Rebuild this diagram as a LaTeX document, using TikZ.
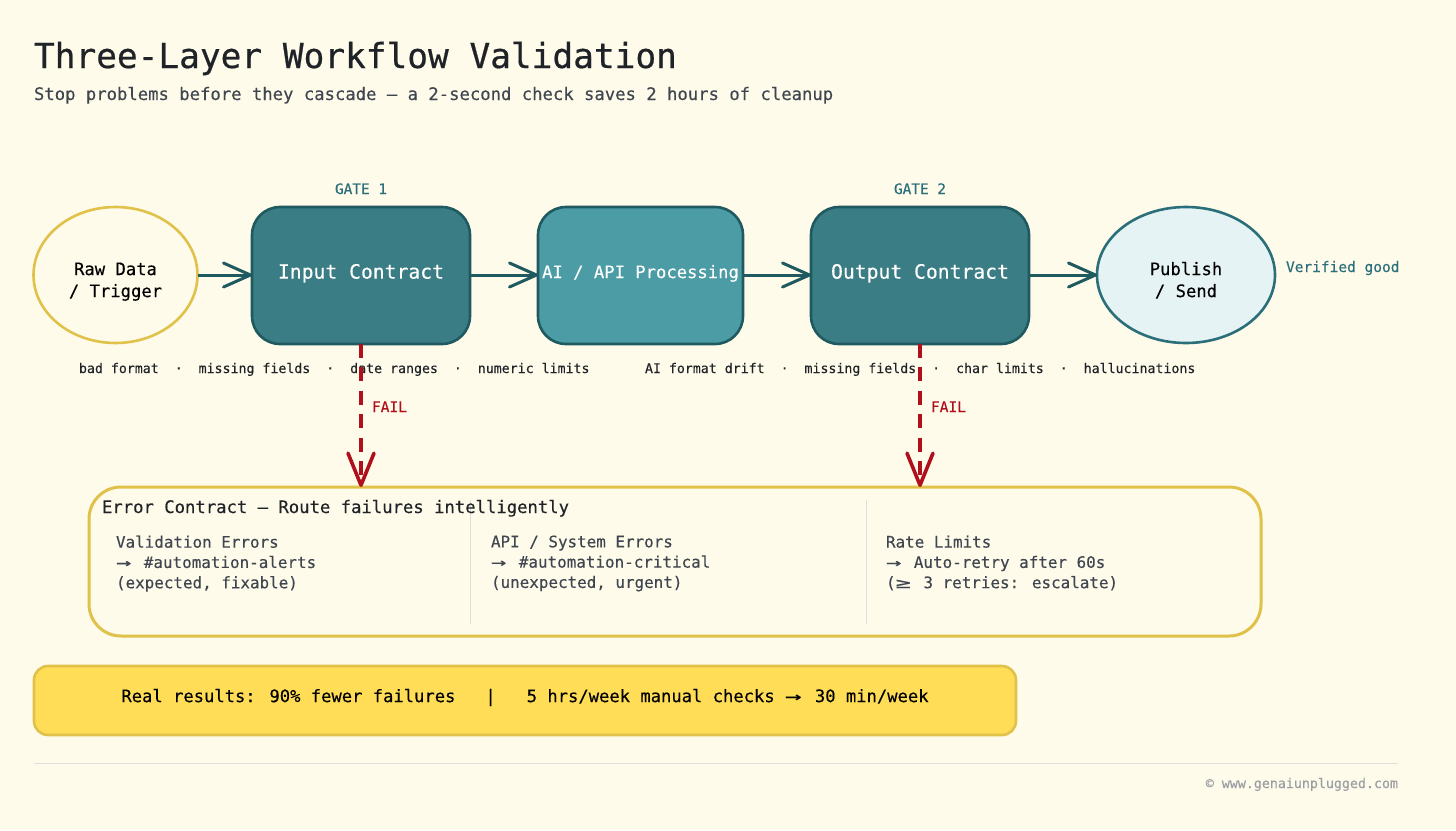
\documentclass[tikz,border=0pt]{standalone}
\usepackage{fontspec}
\usepackage{graphicx}
\setmainfont[FakeBold=0.25]{DejaVu Sans Mono}
\newfontfamily\headfont[FakeBold=0.6]{DejaVu Sans Mono}
\usetikzlibrary{arrows.meta,shapes.geometric,calc}
\definecolor{bgc}{HTML}{FFFBEA}
\definecolor{ink}{HTML}{1F2328}
\definecolor{subink}{HTML}{3F4650}
\definecolor{teal}{HTML}{3A7D84}
\definecolor{tealdk}{HTML}{1F5A60}
\definecolor{tealmd}{HTML}{4B9CA4}
\definecolor{tealtx}{HTML}{2A6F7A}
\definecolor{pale}{HTML}{E6F3F4}
\definecolor{gold}{HTML}{E0C24A}
\definecolor{sun}{HTML}{FFDD57}
\definecolor{redc}{HTML}{B0101C}
\definecolor{rulec}{HTML}{DEDEDA}
\definecolor{greyt}{HTML}{9A9EA3}
\newcommand{\fs}[2]{\fontsize{#1}{#2}\selectfont}
\newcommand{\lbl}[2]{\raisebox{#1}[0pt][0pt]{\begin{tabular}{@{}c@{}}#2\end{tabular}}}
\newcommand{\wide}[1]{\scalebox{1.6}[1]{#1}\hspace{3pt}}
\tikzset{
  shapebase/.style={inner sep=0pt,outer sep=0pt,line width=2.6pt,align=center},
  endellipse/.style={shapebase,ellipse,minimum height=136pt},
  gatebox/.style={shapebase,rectangle,rounded corners=28pt,minimum height=137pt,minimum width=218pt,draw=tealdk,fill=teal,text=white},
  flow/.style={draw=tealdk,line width=3pt,-{Straight Barb[length=27pt,width=24pt,round]}},
  failflow/.style={draw=redc,line width=3.6pt,dash pattern=on 14pt off 9.4pt,-{Straight Barb[length=32pt,width=26pt,round]}},
  txt/.style={inner sep=0pt,outer sep=0pt,anchor=base west,text=ink},
  coltext/.style={txt,text=subink,align=left,anchor=north west,font=\fs{15.9}{20.3}},
  divider/.style={draw=rulec,line width=1pt}
}
\begin{document}
\begin{tikzpicture}[x=1pt,y=-1pt]
\useasboundingbox[fill=bgc] (0,0) rectangle (1456,830);
\node[txt] (title) at (34,68) {\headfont\fs{34.45}{40}Three-Layer Workflow Validation};
\node[txt,text=subink] (subtitle) at (34,100) {\fs{17.24}{20}Stop problems before they cascade — a 2-second check saves 2 hours of cleanup};

\node[endellipse,draw=gold,minimum width=164pt] (raw) at (115.5,275) {\fs{17.2}{22}\lbl{-11pt}{Raw Data\\/ Trigger}};
\node[gatebox] (input) at (361,275.5) {\fs{19.7}{24}\lbl{-3.5pt}{Input Contract}};
\node[gatebox,fill=tealmd,minimum width=205pt] (proc) at (640.5,275.5) {\fs{17.2}{22}\lbl{-2.5pt}{AI / API Processing}};
\node[gatebox] (output) at (920,275.5) {\fs{19.7}{24}\lbl{-3.5pt}{Output Contract}};
\node[endellipse,draw=tealtx,fill=pale,minimum width=178pt] (pub) at (1186,275) {\fs{17.2}{22}\lbl{-11pt}{Publish\\/ Send}};

\node[txt,text=tealtx] (g1) at (335,194) {\fs{14.4}{18}GATE 1};
\node[txt,text=tealtx] (g2) at (894,194) {\fs{14.4}{18}GATE 2};
\node[txt,text=tealtx] (verified) at (1286,272) {\fs{14.5}{18}Verified good};

\draw[flow] (raw.east) -- (raw.east -| input.west);
\draw[flow] (input.east |- raw.east) -- (raw.east -| proc.west);
\draw[flow] (proc.east |- raw.east) -- (raw.east -| output.west);
\draw[flow] (output.east |- raw.east) -- (pub.west);

\node[txt] (checks1) at (79,373) {\fs{13.25}{16}bad format~~·~~missing fields~~·~~date ranges~~·~~numeric limits};
\node[txt] (checks2) at (645,373) {\fs{13.25}{16}AI format drift~~·~~missing fields~~·~~char limits~~·~~hallucinations};

\node[shapebase,rectangle,rounded corners=32pt,draw=gold,line width=3pt,minimum width=1172pt,minimum height=149pt] (err) at (675,561.5) {};
\draw[divider] (470,500) -- (470,624);
\draw[divider] (866,500) -- (866,624);
\node[txt] (errtitle) at (102,513) {\fs{17.24}{22}Error Contract — Route failures intelligently};
\node[coltext] (c1) at (116,535.5) {Validation Errors\\\wide{→} \#automation-alerts\\(expected, fixable)};
\node[coltext] (c2) at (491,535.5) {API / System Errors\\\wide{→} \#automation-critical\\(unexpected, urgent)};
\node[coltext] (c3) at (886,535.5) {Rate Limits\\\wide{→} Auto-retry after 60s\\(\wide{≥} 3 retries: escalate)};

\draw[failflow] (input.south) -- (input.south |- err.north);
\draw[failflow] (output.south) -- (output.south |- err.north);
\node[txt,text=redc] (f1) at (372,412) {\fs{14.5}{18}FAIL};
\node[txt,text=redc] (f2) at (931,412) {\fs{14.5}{18}FAIL};

\node[shapebase,rectangle,rounded corners=14pt,draw=gold,fill=sun,minimum width=982pt,minimum height=69pt] (sum) at (525,700.5) {\fs{17.16}{22}\lbl{-1.5pt}{Real results: 90\% fewer failures\hspace{30pt}|\hspace{31pt}5 hrs/week manual checks \wide{→} 30 min/week}};

\coordinate (rl) at (34,763.5);
\coordinate (rr) at (1398,763.5);
\draw[divider] (rl) -- (rr);
\node[txt,text=greyt,anchor=base east] (foot) at (1398,788) {\fs{13.3}{16}© www.genaiunplugged.com};
\end{tikzpicture}
\end{document}
